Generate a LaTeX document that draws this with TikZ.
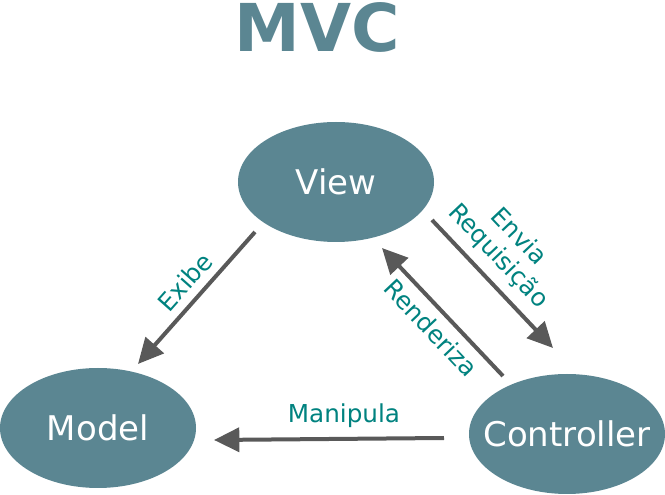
\documentclass[tikz,border=0pt]{standalone}
\usepackage{fontspec}
\setmainfont{DejaVu Sans}
\usetikzlibrary{shapes,arrows.meta}
\definecolor{mvcblue}{HTML}{5B8692}
\definecolor{mvcteal}{HTML}{00827F}
\definecolor{mvcgray}{HTML}{595959}
\tikzset{
  part node/.style={ellipse,fill=mvcblue,text=white,inner sep=0pt,
    minimum width=147pt,minimum height=90pt,font=\fontsize{25.5}{28}\selectfont},
  action/.style={text=mvcteal,align=center,font=\fontsize{18.5}{21}\selectfont},
  flow/.style={-{Triangle[length=19pt,width=18pt]},draw=mvcgray,line width=3pt}
}

\begin{document}
\begin{tikzpicture}[x=0.75pt,y=-0.75pt]
        \useasboundingbox (0,0) rectangle (665,495);
        \node [anchor=base,text=mvcblue,font=\bfseries\fontsize{49.5}{50}\selectfont] (title) at (317,52) {MVC};
        \node [part node] (view) at (336,182) {View};
        \node [part node] (model) at (98,428) {Model};
        \node [part node,inner xsep=-30pt] (controller) at (567,434) {Controller};
        % arrows
        \draw [flow] ([shift={(-81,50)}]view.center) -- ([shift={(40,-64)}]model.center);
        \draw [flow] ([shift={(96,38)}]view.center) -- ([shift={(-14,-86)}]controller.center);
        \draw [flow] ([shift={(-64,-58)}]controller.center) -- ([shift={(46,66)}]view.center);
        \draw [flow] ([shift={(-123,4)}]controller.center) -- ([shift={(116,12)}]model.center);
        % labels
        \node [action,rotate=48.4] (exibe) at (185,282) {Exibe};
        \node [action,rotate=-46.6] (envia) at (508,247) {Envia\\Requisição};
        \node [action,rotate=-46.6] (renderiza) at (431,328) {Renderiza};
        \node [action] (manipula) at (344,416) {Manipula};
      \end{tikzpicture}
\end{document}
